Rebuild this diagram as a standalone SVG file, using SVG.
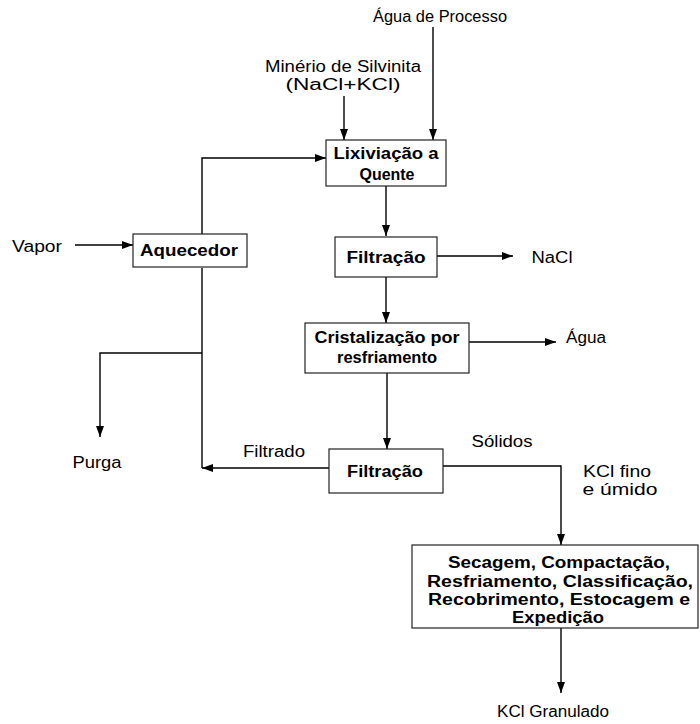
<svg xmlns="http://www.w3.org/2000/svg" width="700" height="724" viewBox="0 0 700 724">
  <style>
    text { font-family: "Liberation Sans", Arial, sans-serif; font-size: 16px; fill: #000; text-anchor: middle; }
    .b { font-weight: bold; }
    .box { fill: #fff; stroke: #222; stroke-width: 1.2; }
    .ln { fill: none; stroke: #000; stroke-width: 1.4; }
    .arr { marker-end: url(#ah); }
  </style>
  <defs>
    <marker id="ah" markerUnits="userSpaceOnUse" markerWidth="12" markerHeight="9" refX="11" refY="4" orient="auto">
      <path d="M0,0 L11,4 L0,8 z" fill="#000"/>
    </marker>
  </defs>
  <rect width="700" height="724" fill="#fff"/>

  <!-- connectors -->
  <g id="connectors">
    <path class="ln arr" d="M433,27 V140"/>
    <path class="ln arr" d="M344,96 V140"/>
    <path class="ln arr" d="M202,234 V158 H326"/>
    <path class="ln arr" d="M75,245 H133"/>
    <path class="ln" d="M202,268 V468"/>
    <path class="ln arr" d="M202,353 H100 V437"/>
    <path class="ln arr" d="M329,468 H202"/>
    <path class="ln arr" d="M386,186 V236"/>
    <path class="ln arr" d="M437,256 H513"/>
    <path class="ln arr" d="M386,277 V323"/>
    <path class="ln arr" d="M469,342 H556"/>
    <path class="ln arr" d="M387,373 V449"/>
    <path class="ln arr" d="M443,466 H561 V545"/>
    <path class="ln arr" d="M561,628 V693"/>
  </g>

  <!-- free labels -->
  <g id="labels">
    <text x="440" y="22" textLength="134" lengthAdjust="spacingAndGlyphs">Água de Processo</text>
    <text x="343" y="72" textLength="156" lengthAdjust="spacingAndGlyphs">Minério de Silvinita</text>
    <text x="343" y="90" textLength="115" lengthAdjust="spacingAndGlyphs">(NaCl+KCl)</text>
    <text x="37" y="252" textLength="50" lengthAdjust="spacingAndGlyphs">Vapor</text>
    <text x="552" y="263" textLength="41" lengthAdjust="spacingAndGlyphs">NaCl</text>
    <text x="586" y="343" textLength="40" lengthAdjust="spacingAndGlyphs">Água</text>
    <text x="274" y="457" textLength="62" lengthAdjust="spacingAndGlyphs">Filtrado</text>
    <text x="97" y="468" textLength="49" lengthAdjust="spacingAndGlyphs">Purga</text>
    <text x="502" y="447" textLength="61" lengthAdjust="spacingAndGlyphs">Sólidos</text>
    <text x="617" y="477" textLength="68" lengthAdjust="spacingAndGlyphs">KCl fino</text>
    <text x="620" y="495" textLength="75" lengthAdjust="spacingAndGlyphs">e úmido</text>
    <text x="553" y="717" textLength="112" lengthAdjust="spacingAndGlyphs">KCl Granulado</text>
  </g>

  <!-- process nodes -->
  <g id="lixiviacao">
    <rect class="box" x="326" y="140" width="120" height="46"/>
    <text class="b" x="386" y="159" textLength="105" lengthAdjust="spacingAndGlyphs">Lixiviação a</text>
    <text class="b" x="387" y="180" textLength="55" lengthAdjust="spacingAndGlyphs">Quente</text>
  </g>
  <g id="aquecedor">
    <rect class="box" x="133" y="234" width="114" height="33"/>
    <text class="b" x="189" y="256" textLength="98" lengthAdjust="spacingAndGlyphs">Aquecedor</text>
  </g>
  <g id="filtracao1">
    <rect class="box" x="335" y="237" width="102" height="40"/>
    <text class="b" x="386" y="263" textLength="79" lengthAdjust="spacingAndGlyphs">Filtração</text>
  </g>
  <g id="cristalizacao">
    <rect class="box" x="305" y="323" width="164" height="50"/>
    <text class="b" x="387" y="343" textLength="145" lengthAdjust="spacingAndGlyphs">Cristalização por</text>
    <text class="b" x="387" y="363" textLength="100" lengthAdjust="spacingAndGlyphs">resfriamento</text>
  </g>
  <g id="filtracao2">
    <rect class="box" x="329" y="449" width="114" height="44"/>
    <text class="b" x="385" y="477" textLength="76" lengthAdjust="spacingAndGlyphs">Filtração</text>
  </g>
  <g id="acabamento">
    <rect class="box" x="412" y="545" width="286" height="83"/>
    <text class="b" x="559" y="568" textLength="222" lengthAdjust="spacingAndGlyphs">Secagem, Compactação,</text>
    <text class="b" x="560" y="587" textLength="266" lengthAdjust="spacingAndGlyphs">Resfriamento, Classificação,</text>
    <text class="b" x="559" y="605" textLength="262" lengthAdjust="spacingAndGlyphs">Recobrimento, Estocagem e</text>
    <text class="b" x="558" y="623" textLength="92" lengthAdjust="spacingAndGlyphs">Expedição</text>
  </g>
</svg>
